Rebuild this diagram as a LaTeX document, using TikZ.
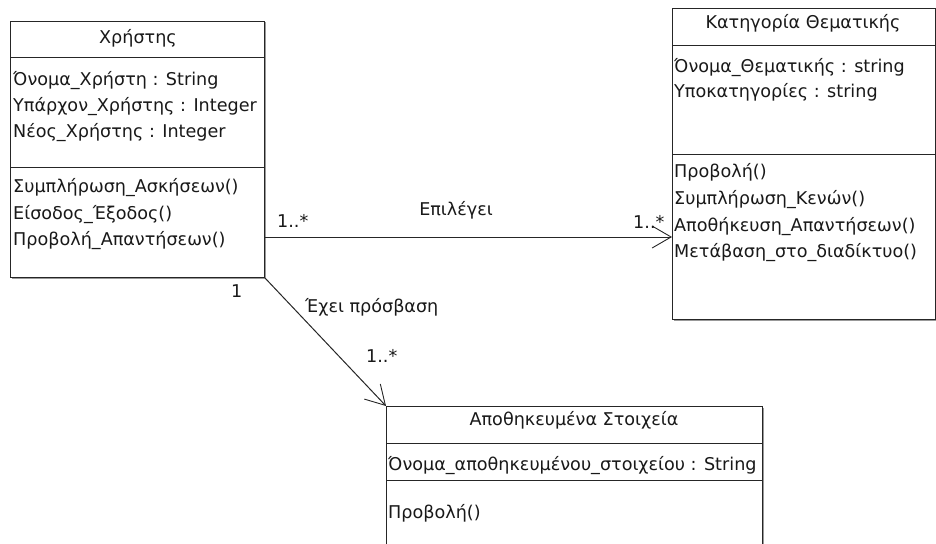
\documentclass[tikz,border=0pt]{standalone}
\usepackage{fontspec}
\setmainfont{DejaVu Sans}
\usetikzlibrary{arrows.meta,calc}
\begin{document}
\begin{tikzpicture}[x=1pt,y=-1pt,
  every node/.style={font=\fontsize{17.6}{20}\selectfont, text=black!90, inner sep=0pt},
  classbox/.style={draw=black!85, line width=1pt, fill=white, anchor=north west, inner sep=0pt},
  shadowline/.style={draw=black!40, line width=1pt},
  divider/.style={draw=black!85, line width=1pt},
  row/.style={anchor=base west},
  title/.style={anchor=base},
  lbl/.style={anchor=base west},
  assoc/.style={draw=black!85, line width=1pt, -{Straight Barb[length=19pt,width=22pt,line width=0.9pt]}}]
\useasboundingbox (0,0) rectangle (936,543);
% shadows
\draw[shadowline] (265.3,22.5) -- (265.3,278.3) -- (11.5,278.3);
\draw[shadowline] (936.3,9.5) -- (936.3,320.3) -- (673.5,320.3);
\draw[shadowline] (763.3,407.5) -- (763.3,560);
% class boxes
\node[classbox, minimum width=254pt, minimum height=256pt] (user) at (10,21) {};
\node[classbox, minimum width=263pt, minimum height=311pt] (cat) at (672,8) {};
\node[classbox, minimum width=376pt, minimum height=160pt] (stored) at (386,406) {};
% dividers
\draw[divider] (user.west |- 0,58) -- (user.east |- 0,58);
\draw[divider] (user.west |- 0,167) -- (user.east |- 0,167);
\draw[divider] (cat.west |- 0,46) -- (cat.east |- 0,46);
\draw[divider] (cat.west |- 0,154) -- (cat.east |- 0,154);
\draw[divider] (stored.west |- 0,443) -- (stored.east |- 0,443);
\draw[divider] (stored.west |- 0,480) -- (stored.east |- 0,480);
% user texts
\node[title] (uname) at (138,44) {Χρήστης};
\node[row] (ua1) at (13,85) {Όνομα\_Χρήστη : String};
\node[row] (ua2) at (13,111) {Υπάρχον\_Χρήστης : Integer};
\node[row] (ua3) at (13,137) {Νέος\_Χρήστης : Integer};
\node[row] (um1) at (13,192) {Συμπλήρωση\_Ασκήσεων()};
\node[row] (um2) at (13,219) {Είσοδος\_Έξοδος()};
\node[row] (um3) at (13,245) {Προβολή\_Απαντήσεων()};
% category texts
\node[title] (cname) at (803,29) {Κατηγορία Θεματικής};
\node[row] (ca1) at (674,72) {Όνομα\_Θεματικής : string};
\node[row] (ca2) at (674,97) {Υποκατηγορίες : string};
\node[row] (cm1) at (674,177) {Προβολή()};
\node[row] (cm2) at (674,204) {Συμπλήρωση\_Κενών()};
\node[row] (cm3) at (674,231) {Αποθήκευση\_Απαντήσεων()};
\node[row] (cm4) at (674,257) {Μετάβαση\_στο\_διαδίκτυο()};
% stored texts
\node[title] (sname) at (574,425) {Αποθηκευμένα Στοιχεία};
\node[row] (sa1) at (388,470) {Όνομα\_αποθηκευμένου\_στοιχείου : String};
\node[row] (sm1) at (388,518) {Προβολή()};
% connectors
\coordinate (h) at (0,237);
\draw[assoc] (user.east |- h) -- (cat.west |- h);
\draw[assoc] (user.south east) -- (stored.north west);
% labels
\node[anchor=base] (l1) at (456,215) {Επιλέγει};
\node[lbl] (m1) at (277,227) {1..*};
\node[lbl] (m2) at (633,228) {1..*};
\node[lbl] (m3) at (231,297) {1};
\node[lbl] (l2) at (305,312) {Έχει πρόσβαση};
\node[lbl] (m4) at (366,362) {1..*};
\end{tikzpicture}
\end{document}
